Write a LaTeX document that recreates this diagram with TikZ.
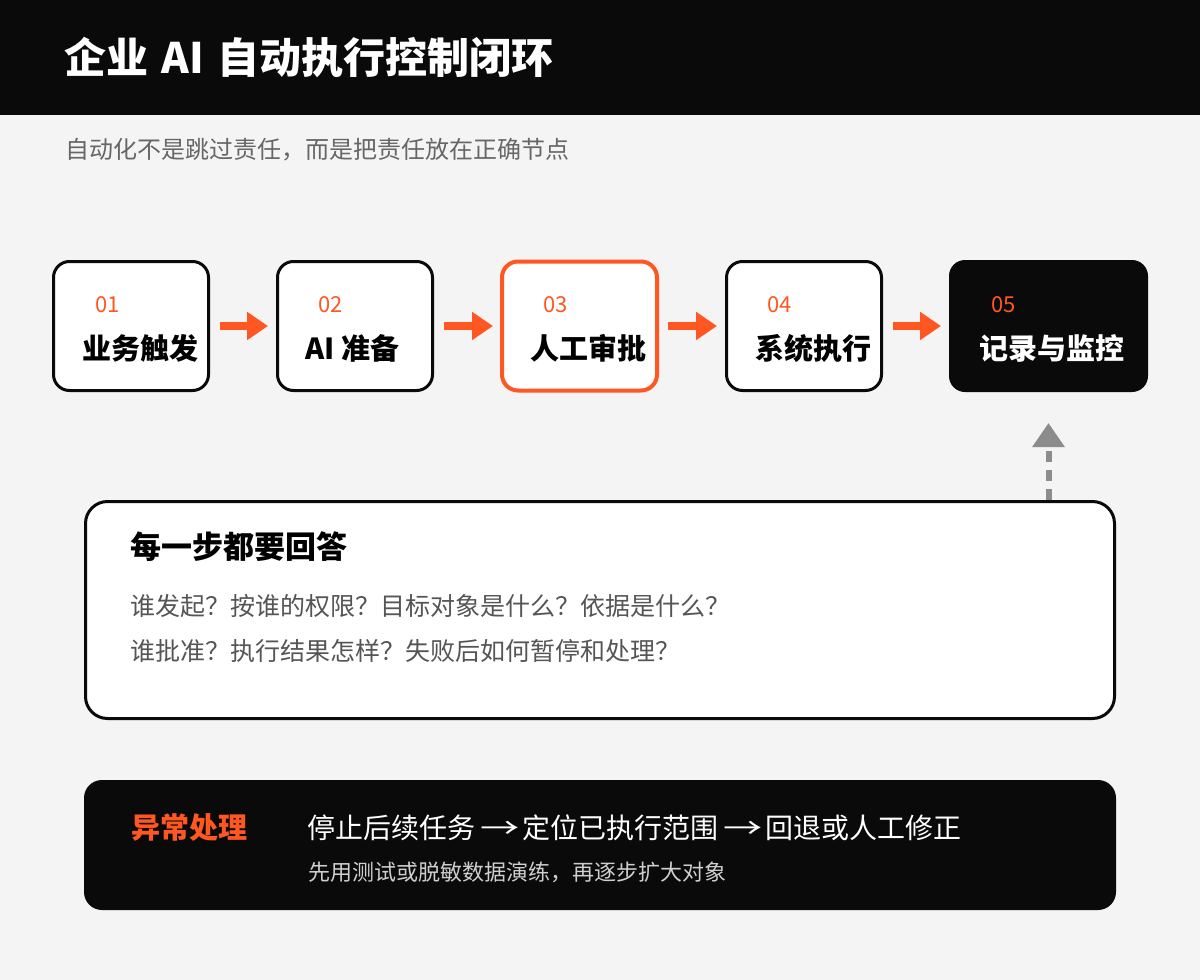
\documentclass[tikz,border=0pt]{standalone}
\usepackage{fontspec}
\setmainfont{Noto Sans CJK SC}
\usetikzlibrary{positioning,arrows.meta}
\definecolor{ink}{HTML}{0A0A0A}
\definecolor{accent}{HTML}{FF5722}
\definecolor{paper}{HTML}{F4F4F4}
\definecolor{muted}{HTML}{666666}
\definecolor{soft}{HTML}{555555}
\definecolor{faint}{HTML}{CFCFCF}
\definecolor{linkgray}{HTML}{8C8C8C}
\newcommand{\fs}[1]{\fontsize{#1}{#1}\selectfont}
\newcommand{\thento}{\hspace{5pt}\scalebox{1.4}[1]{→}\hspace{3pt}}

\begin{document}
\begin{tikzpicture}[x=1pt, y=-1pt, node distance=66pt and 66pt,
	stepbox/.style={draw=ink, line width=3pt, fill=white, rounded corners=16pt, minimum width=155pt, minimum height=129pt, inner sep=0pt},
	keybox/.style={stepbox, draw=accent, line width=4pt},
	lastbox/.style={stepbox, draw=none, fill=ink, minimum width=199pt, minimum height=132pt, outer sep=0pt},
	stepnum/.style={anchor=west, inner sep=0pt, text=accent, font=\fs{22}},
	steplabel/.style={anchor=west, inner sep=0pt, font=\bfseries\fs{29}},
	flow/.style={accent, line width=8pt, -{Triangle[length=21pt, width=27pt]}},
	feedback/.style={linkgray, line width=6pt, dash pattern=on 11pt off 8pt, -{Triangle[length=24pt, width=31pt]}}]
	% canvas
	\fill[paper] (0,0) rectangle (1200,980);
	\useasboundingbox (0,0) rectangle (1200,980);
	\fill[ink] (0,0) rectangle (1200,115);
	\node[anchor=west, inner sep=0pt, text=white, font=\bfseries\fs{42}] (title) at (64,58) {企业\hspace{4pt} AI\hspace{4pt} 自动执行控制闭环};
	\node[anchor=west, inner sep=0pt, text=muted, font=\fs{24}] (subtitle) at (65,150) {自动化不是跳过责任，而是把责任放在正确节点};
	% the five steps
	\node[stepbox] (s1) at (131,326) {};
	\node[stepbox, right=of s1] (s2) {};
	\node[keybox, right=of s2] (s3) {};
	\node[stepbox, right=of s3] (s4) {};
	\node[lastbox, right=of s4] (s5) {};
	\node[stepnum] (n1) at ([xshift=43pt, yshift=21pt]s1.west) {01};
	\node[steplabel] (l1) at ([xshift=30pt, yshift=-22pt]s1.west) {业务触发};
	\node[stepnum] (n2) at ([xshift=42pt, yshift=21pt]s2.west) {02};
	\node[steplabel] (l2) at ([xshift=29pt, yshift=-22pt]s2.west) {AI 准备};
	\node[stepnum] (n3) at ([xshift=43pt, yshift=21pt]s3.west) {03};
	\node[steplabel] (l3) at ([xshift=30pt, yshift=-22pt]s3.west) {人工审批};
	\node[stepnum] (n4) at ([xshift=42pt, yshift=21pt]s4.west) {04};
	\node[steplabel] (l4) at ([xshift=30pt, yshift=-22pt]s4.west) {系统执行};
	\node[stepnum] (n5) at ([xshift=42pt, yshift=21pt]s5.west) {05};
	\node[steplabel, text=white] (l5) at ([xshift=30pt, yshift=-22pt]s5.west) {记录与监控};
	\draw[flow] ([xshift=10pt]s1.east) -- ([xshift=-8pt]s2.west);
	\draw[flow] ([xshift=10pt]s2.east) -- ([xshift=-7pt]s3.west);
	\draw[flow] ([xshift=9pt]s3.east) -- ([xshift=-8pt]s4.west);
	\draw[flow] ([xshift=10pt]s4.east) -- ([xshift=-8pt]s5.west);
	% questions
	\node[draw=ink, line width=3pt, fill=white, rounded corners=22pt, minimum width=1029pt, minimum height=217pt] (ask) at (600,610) {};
	\node[anchor=west, inner sep=0pt, font=\bfseries\fs{31}] (askhead) at (130,547) {每一步都要回答};
	\node[anchor=west, inner sep=0pt, text=soft, font=\fs{25}] (ask1) at (130,606) {谁发起？按谁的权限？目标对象是什么？依据是什么？};
	\node[anchor=west, inner sep=0pt, text=soft, font=\fs{25}] (ask2) at (130,651) {谁批准？执行结果怎样？失败后如何暂停和处理？};
	\draw[feedback] (ask.north -| s5.south) -- ([yshift=-31pt]s5.south);
	% exceptions
	\node[fill=ink, rounded corners=18pt, minimum width=1032pt, minimum height=130pt, inner sep=0pt] (fail) at (600,845) {};
	\node[anchor=west, inner sep=0pt, text=accent, font=\bfseries\fs{29}] (failhead) at (131,828) {异常处理};
	\node[anchor=west, inner sep=0pt, text=white, font=\fs{28}] (failsteps) at (307,828) {停止后续任务\thento 定位已执行范围\thento 回退或人工修正};
	\node[anchor=west, inner sep=0pt, text=faint, font=\fs{22}] (failnote) at (308,872) {先用测试或脱敏数据演练，再逐步扩大对象};
\end{tikzpicture}
\end{document}
